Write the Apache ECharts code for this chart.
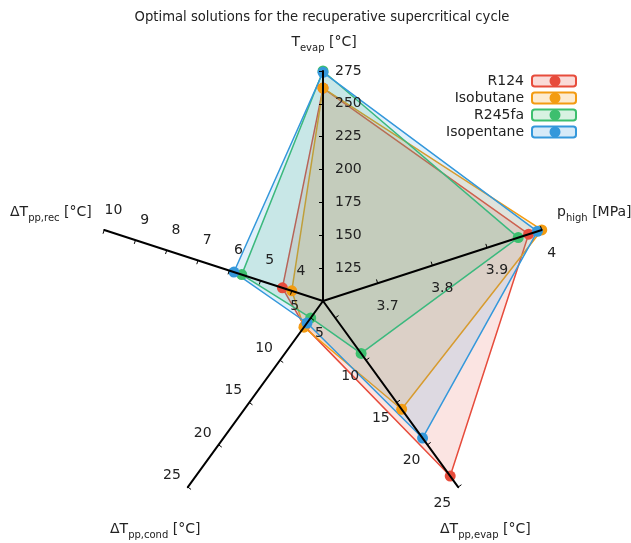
<!DOCTYPE html>
<html>
<head>
<meta charset="utf-8">
<script src="https://cdn.jsdelivr.net/npm/echarts@6/dist/echarts.min.js"></script>
<style>
html,body{margin:0;padding:0;background:#fff;}
#main{width:631px;height:543px;}
</style>
</head>
<body>
<div id="main"></div>
<script>
// axes, in radar order (counter-clockwise from top)
var axisNames = ['Tevap', 'dTrec', 'dTcond', 'dTevap', 'phigh'];
var axisMin = [100, 3, 3, 3, 3.6];
var axisMax = [275, 10, 25, 25, 4.0];
var axisTicks = [
	[125, 150, 175, 200, 225, 250, 275],
	[4, 5, 6, 7, 8, 9, 10],
	[5, 10, 15, 20, 25],
	[5, 10, 15, 20, 25],
	[3.7, 3.8, 3.9, 4]
];

var fluids = ['R124', 'Isobutane', 'R245fa', 'Isopentane'];
var colors = ['#e74c3c', '#f39c12', '#3dbf6e', '#3498db'];

// Tevap, dTpp,rec, dTpp,cond, dTpp,evap, p_high
var valR124 = [262, 4.3, 6.0, 23.7, 3.976];
var valIsobutane = [262, 4.0, 6.1, 15.8, 4.0];
var valR245fa = [275, 5.6, 5.0, 9.2, 3.957];
var valIsopentane = [274, 5.85, 5.6, 19.2, 3.992];
var values = [valR124, valIsobutane, valR245fa, valIsopentane];

// label placement per axis: radar puts labels on the other side, so push them across
var lblMargin = [-40, -62, -32, -32, -71];
var lblWidth = [28, 20, 20, 20, 24];
var lblAlign = ['left', 'center', 'center', 'center', 'center'];
var lblPadding = [[0,0,0,0], [78,0,0,0], [14,0,0,0], [0,0,6,0], [0,0,89,0]];

function tint(hex, a){
	var r = parseInt(hex.substr(1,2),16), g = parseInt(hex.substr(3,2),16), b = parseInt(hex.substr(5,2),16);
	return 'rgba('+r+','+g+','+b+','+a+')';
}

var myChart = echarts.init(document.getElementById('main'));

var indicator = [];
for(var i=0;i<axisNames.length;i++){
	indicator.push({
		name: axisNames[i],
		min: axisMin[i],
		max: axisMax[i],
		axisLabel: {
			customValues: axisTicks[i],
			margin: lblMargin[i],
			padding: lblPadding[i],
			formatter: function(v){ return '{a|' + v + '}'; },
			rich: {a: {width: lblWidth[i], align: lblAlign[i], fontFamily: 'DejaVu Sans', fontSize: 14, color: '#222'}}
		},
		axisTick: {customValues: axisTicks[i]}
	});
}

var series = [];
var legendBox = [], legendDot = [];
for(var i=0;i<fluids.length;i++){
	series.push({
		name: fluids[i],
		type: 'radar',
		symbol: 'circle',
		symbolSize: 11,
		z: 2,
		lineStyle: {color: colors[i], width: 1.5},
		itemStyle: {color: colors[i]},
		areaStyle: {color: tint(colors[i], 0.21)},
		data: [{name: fluids[i], value: values[i]}]
	});
	legendBox.push({name: fluids[i], itemStyle: {color: tint(colors[i], 0.2), borderColor: colors[i], borderWidth: 2}});
	legendDot.push({name: fluids[i], itemStyle: {color: colors[i], borderWidth: 0}});
}

var nameStyle = {
	fontFamily: 'DejaVu Sans',
	fontSize: 14,
	fontWeight: 'normal',
	color: '#222',
	lineHeight: 22,
	rich: {s: {fontFamily: 'DejaVu Sans', fontSize: 10, fontWeight: 'normal', lineHeight: 12, verticalAlign: 'bottom', color: '#222'}}
};

var option = {
	animation: false,
	title: [
		{text: 'Optimal solutions for the recuperative supercritical cycle', left: 322, top: 11, textAlign: 'center', padding: 0,
			textStyle: {fontFamily: 'DejaVu Sans', fontSize: 13.2, fontWeight: 'normal', color: '#222'}},
		{text: 'T{s|evap} [°C]', left: 324, top: 31, textAlign: 'center', padding: 0, textStyle: nameStyle},
		{text: 'p{s|high} [MPa]', left: 557, top: 201, padding: 0, textStyle: nameStyle},
		{text: 'ΔT{s|pp,rec} [°C]', left: 10, top: 201, padding: 0, textStyle: nameStyle},
		{text: 'ΔT{s|pp,cond} [°C]', left: 110, top: 518, padding: 0, textStyle: nameStyle},
		{text: 'ΔT{s|pp,evap} [°C]', left: 440, top: 518, padding: 0, textStyle: nameStyle}
	],
	legend: [{
		data: legendBox,
		icon: 'roundRect',
		z: 4,
		orient: 'vertical',
		right: 54,
		top: 74,
		padding: 0,
		align: 'right',
		itemWidth: 44,
		itemHeight: 11,
		itemGap: 3,
		textStyle: {fontFamily: 'DejaVu Sans', fontSize: 14, color: '#222', padding: [0, 3, 0, 0]}
	}, {
		// dots drawn over the boxes
		data: legendDot,
		icon: 'circle',
		z: 5,
		orient: 'vertical',
		right: 70.5,
		top: 74,
		padding: 0,
		align: 'right',
		itemWidth: 44,
		itemHeight: 11,
		itemGap: 3,
		textStyle: {fontFamily: 'DejaVu Sans', fontSize: 14, color: 'rgba(0,0,0,0)', padding: [0, 3, 0, 0]}
	}],
	radar: {
		center: [323, 301],
		radius: 230,
		startAngle: 90,
		shape: 'polygon',
		splitNumber: 7,
		z: 10,
		splitLine: {show: false},
		splitArea: {show: false},
		axisName: {show: false},
		axisLine: {lineStyle: {color: '#000', width: 2}},
		axisTick: {show: true, length: 4, lineStyle: {color: '#000', width: 1}},
		axisLabel: {show: true, fontFamily: 'DejaVu Sans', fontSize: 14, color: '#222'},
		indicator: indicator
	},
	series: series
};
myChart.setOption(option);
</script>
</body>
</html>
